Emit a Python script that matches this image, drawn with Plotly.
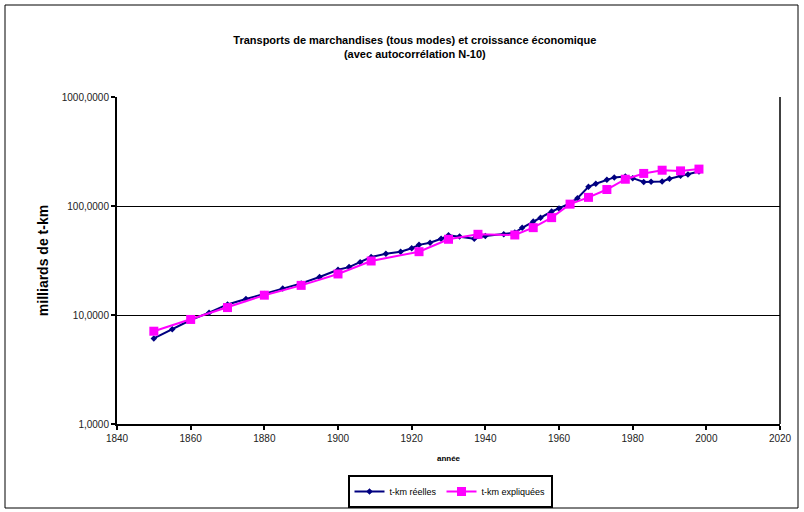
import plotly.graph_objects as go

# Data
years_reel = [1850, 1855, 1860, 1865, 1870, 1875, 1880, 1885, 1890, 1895, 1900, 1903, 1906, 1909,
              1913, 1917, 1920, 1922, 1925, 1928, 1930, 1933, 1937, 1940, 1945, 1948, 1950, 1953,
              1955, 1958, 1960, 1963, 1965, 1968, 1970, 1973, 1975, 1978, 1980, 1983, 1985, 1988,
              1990, 1993, 1995, 1998]
tkm_reelles = [6.1, 7.4, 9.0, 10.5, 12.5, 14.0, 15.6, 17.5, 19.5, 22.3, 26.0, 27.5, 30.5, 34.0,
               36.5, 38.0, 41.0, 44.0, 46.0, 50.0, 54.0, 52.5, 50.0, 53.0, 55.0, 57.0, 63.0, 72.0,
               78.0, 89.0, 95.0, 106.0, 118.0, 150.0, 160.0, 174.0, 183.0, 186.0, 180.0, 166.0, 167.0, 168.0,
               178.0, 189.0, 195.0, 207.0]

years_expl = [1850, 1860, 1870, 1880, 1890, 1900, 1909, 1922, 1930, 1938, 1948, 1953, 1958, 1963,
              1968, 1973, 1978, 1983, 1988, 1993, 1998]
tkm_expliquees = [7.1, 9.1, 11.7, 15.2, 18.7, 23.8, 31.3, 38.1, 49.5, 55.0, 54.2, 63.3, 78.2, 104.0,
                  120.0, 141.6, 176.0, 199.0, 213.0, 210.0, 218.0]

y_tickvals = [1, 10, 100, 1000]
y_ticktext = ["1,0000", "10,0000", "100,0000", "1000,0000"]

FONT = "Liberation Sans, Arial, sans-serif"

W, H = 804, 512
L, R, T, B = 117, 24, 97, 88
PW, PH = W - L - R, H - T - B

fig = go.Figure()
fig.add_trace(go.Scatter(
    x=years_reel, y=tkm_reelles, name="t-km réelles", mode="lines+markers",
    line=dict(color="#000080", width=2),
    marker=dict(symbol="diamond", size=5, color="#000080"),
))
fig.add_trace(go.Scatter(
    x=years_expl, y=tkm_expliquees, name="t-km expliquées", mode="lines+markers",
    line=dict(color="#FF00FF", width=2),
    marker=dict(symbol="square", size=9, color="#FF00FF"),
))

fig.update_layout(
    width=W, height=H,
    margin=dict(l=L, r=R, t=T, b=B, autoexpand=False),
    paper_bgcolor="white", plot_bgcolor="white",
    font=dict(family=FONT, color="black", size=10),
    title=dict(
        text="<b>Transports de marchandises (tous modes) et croissance économique<br>(avec autocorrélation N-10)</b>",
        x=0.516, xanchor="center", y=0.915, yanchor="top",
        font=dict(family=FONT, size=11, color="black"),
    ),
    xaxis=dict(
        range=[1840, 2020], tickmode="linear", tick0=1840, dtick=20,
        showgrid=False, showline=True, linecolor="black", linewidth=2,
        mirror=False, ticks="outside", ticklen=4, tickcolor="black", tickwidth=2,
        tickfont=dict(size=10, color="#222"),
        title=dict(text="<b>année</b>", font=dict(size=8), standoff=12),
        zeroline=False, automargin=False,
    ),
    yaxis=dict(
        type="log", range=[0, 3], tickvals=y_tickvals, ticktext=y_ticktext,
        showgrid=True, gridcolor="black", gridwidth=1.3,
        showline=True, linecolor="black", linewidth=2,
        ticks="outside", ticklen=4, tickcolor="black", tickwidth=2,
        tickfont=dict(size=10, color="#222"),
        title=dict(text="<b>milliards de t-km</b>", font=dict(size=14), standoff=10),
        zeroline=False, automargin=False,
    ),
    legend=dict(
        orientation="h", x=(450 - L) / PW, xanchor="center", y=(T + PH - 475) / PH, yanchor="top",
        bordercolor="black", borderwidth=2, bgcolor="white",
        font=dict(size=9), itemwidth=30, tracegroupgap=0,
    ),
    showlegend=True,
)

# Right border of the plot area
fig.add_shape(type="line", xref="paper", yref="paper", x0=1, x1=1, y0=0, y1=1,
              line=dict(color="black", width=1.5))
# Outer chart border
fig.add_shape(type="rect", xref="paper", yref="paper",
              x0=(5 - L) / PW, x1=(798 - L) / PW,
              y0=(T + PH - 508) / PH, y1=(T + PH - 5) / PH,
              line=dict(color="black", width=1), layer="below")

fig.write_html("out.html", config={"displayModeBar": False},
               post_script="document.body.style.margin='0';")
